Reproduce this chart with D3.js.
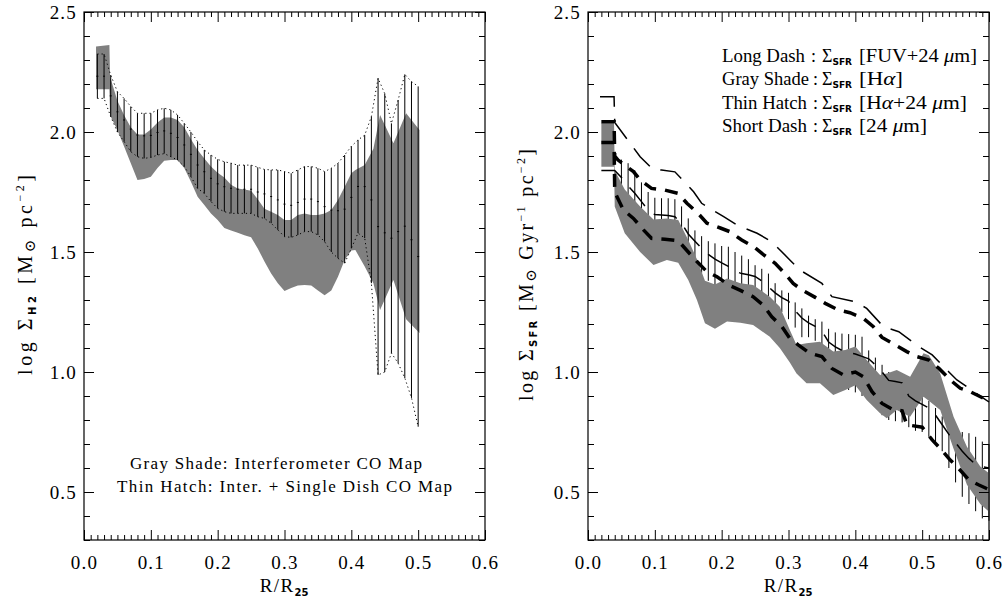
<!DOCTYPE html>
<html><head><meta charset="utf-8">
<script src="https://cdn.jsdelivr.net/npm/d3@7"></script>
<style>body{margin:0;background:#fff}</style>
</head><body><svg id="c" width="1006" height="602"></svg>
<script>
// ---------------- DATA ----------------
const xTickValues = [0.0, 0.1, 0.2, 0.3, 0.4, 0.5, 0.6];
const yTickValues = [0.5, 1.0, 1.5, 2.0, 2.5];

// Left panel: gray shade (interferometer CO map)
const leftGrayR  = [0.018,0.038,0.039,0.05,0.06,0.07,0.08,0.09,0.10,0.11,0.12,0.13,0.14,0.15,0.16,0.17,0.18,0.19,0.20,0.21,0.22,0.23,0.24,0.25,0.26,0.27,0.28,0.29,0.30,0.31,0.32,0.33,0.34,0.35,0.36,0.37,0.38,0.39,0.40,0.406,0.42,0.433,0.443,0.463,0.482,0.502];
const leftGrayLo = [2.178,2.178,2.07,2.008,1.94,1.87,1.80,1.804,1.814,1.85,1.88,1.883,1.883,1.85,1.793,1.73,1.696,1.66,1.633,1.60,1.59,1.58,1.57,1.561,1.515,1.46,1.41,1.37,1.337,1.35,1.36,1.363,1.36,1.34,1.32,1.34,1.397,1.467,1.506,1.508,1.44,1.37,1.258,1.383,1.22,1.163];
const leftGrayHi = [2.356,2.362,2.23,2.13,2.07,2.02,1.99,1.99,2.01,2.04,2.06,2.06,2.05,2.02,1.97,1.925,1.89,1.856,1.83,1.81,1.78,1.765,1.76,1.755,1.72,1.68,1.668,1.654,1.633,1.633,1.654,1.66,1.654,1.654,1.66,1.675,1.717,1.772,1.828,1.842,1.862,1.93,2.071,1.953,2.078,2.008];

// Left panel: thin hatch (inter. + single dish CO map)
const leftHatchR  = [0.02,0.03,0.04,0.05,0.06,0.07,0.08,0.09,0.10,0.11,0.12,0.13,0.14,0.15,0.16,0.17,0.18,0.19,0.20,0.21,0.22,0.23,0.24,0.25,0.26,0.27,0.28,0.29,0.30,0.31,0.32,0.33,0.34,0.35,0.36,0.37,0.38,0.39,0.40,0.41,0.42,0.43,0.44,0.45,0.46,0.47,0.48,0.49,0.50];
const leftHatchHi = [2.325,2.325,2.237,2.168,2.14,2.106,2.078,2.078,2.078,2.092,2.099,2.092,2.071,2.036,2.0,1.96,1.925,1.904,1.886,1.876,1.87,1.862,1.862,1.862,1.853,1.844,1.842,1.842,1.835,1.828,1.842,1.856,1.856,1.849,1.835,1.849,1.87,1.904,1.94,1.967,1.987,2.064,2.224,2.16,2.036,2.133,2.24,2.21,2.19];
const leftHatchLo = [2.14,2.14,2.064,2.0,1.96,1.918,1.897,1.89,1.894,1.904,1.91,1.897,1.883,1.856,1.814,1.765,1.744,1.71,1.682,1.668,1.661,1.661,1.661,1.661,1.647,1.64,1.62,1.592,1.564,1.561,1.571,1.585,1.585,1.571,1.543,1.5,1.474,1.453,1.515,1.579,1.558,1.37,0.9875,1.0,1.079,1.037,0.975,0.892,0.772];

// Right panel: gray shade, SFR [Halpha]
const rightGrayR  = [0.02,0.039,0.04,0.055,0.078,0.098,0.118,0.135,0.15,0.163,0.175,0.19,0.208,0.228,0.247,0.272,0.287,0.302,0.312,0.327,0.347,0.367,0.385,0.40,0.417,0.437,0.447,0.462,0.482,0.502,0.51,0.527,0.547,0.567,0.587,0.60];
const rightGrayLo = [1.855,1.855,1.69,1.578,1.50,1.446,1.467,1.455,1.383,1.30,1.203,1.18,1.21,1.205,1.196,1.147,1.10,1.04,0.994,0.953,0.953,0.904,0.925,0.945,0.883,0.828,0.807,0.842,0.814,0.897,0.88,0.842,0.68,0.53,0.45,0.418];
const rightGrayHi = [2.036,2.036,1.84,1.76,1.69,1.635,1.64,1.633,1.55,1.47,1.38,1.365,1.39,1.37,1.363,1.314,1.272,1.175,1.112,1.12,1.126,1.085,1.092,1.106,1.05,0.988,0.994,1.008,0.98,1.078,1.07,0.994,0.814,0.689,0.606,0.578];

// Right panel: thin hatch, SFR [Halpha+24um]
const rightHatchR  = [0.05,0.06,0.07,0.08,0.09,0.10,0.11,0.12,0.13,0.14,0.15,0.16,0.17,0.18,0.19,0.20,0.21,0.22,0.23,0.24,0.25,0.26,0.27,0.28,0.29,0.30,0.31,0.32,0.33,0.34,0.35,0.36,0.37,0.38,0.39,0.40,0.41,0.42,0.43,0.44,0.45,0.46,0.47,0.48,0.49,0.50,0.51,0.52,0.53,0.54,0.55,0.56,0.57,0.58,0.59,0.60];
const rightHatchHi = [1.885,1.87,1.84,1.79,1.75,1.726,1.724,1.724,1.72,1.69,1.64,1.59,1.566,1.545,1.536,1.525,1.522,1.50,1.485,1.47,1.445,1.43,1.41,1.37,1.34,1.33,1.29,1.265,1.235,1.22,1.21,1.18,1.165,1.16,1.158,1.155,1.147,1.09,1.06,1.03,1.0,0.99,0.98,0.95,0.93,0.90,0.88,0.85,0.815,0.785,0.76,0.75,0.745,0.73,0.71,0.70];
const rightHatchLo = [1.66,1.585,1.555,1.55,1.525,1.516,1.514,1.508,1.50,1.48,1.445,1.455,1.413,1.38,1.338,1.315,1.276,1.26,1.26,1.275,1.304,1.28,1.245,1.25,1.25,1.22,1.185,1.145,1.145,1.13,1.09,1.015,0.985,0.95,0.925,0.915,0.90,0.90,0.88,0.82,0.80,0.795,0.79,0.77,0.755,0.75,0.73,0.70,0.67,0.60,0.54,0.48,0.45,0.42,0.39,0.38];

// Right panel: thin long-dash line through hatch
const hatchLineR = [0.02,0.039,0.04,0.05,0.06,0.07,0.08,0.09,0.10,0.11,0.12,0.13,0.14,0.15,0.16,0.17,0.18,0.19,0.20,0.21,0.22,0.23,0.24,0.25,0.26,0.27,0.28,0.29,0.30,0.31,0.32,0.33,0.34,0.35,0.36,0.37,0.38,0.39,0.40,0.41,0.42,0.43,0.44,0.45,0.46,0.47,0.48,0.49,0.50,0.51,0.52,0.53,0.54,0.55,0.56,0.57,0.58,0.59,0.60];
const hatchLineV = [1.84,1.84,1.84,1.81,1.775,1.745,1.71,1.675,1.656,1.654,1.652,1.647,1.62,1.575,1.545,1.515,1.49,1.47,1.455,1.44,1.42,1.41,1.405,1.398,1.38,1.355,1.33,1.31,1.295,1.255,1.225,1.205,1.19,1.17,1.125,1.105,1.09,1.08,1.075,1.065,1.055,1.03,1.0,0.965,0.96,0.955,0.90,0.88,0.865,0.85,0.82,0.78,0.74,0.705,0.67,0.64,0.615,0.605,0.60];

// Right panel: long dash, SFR [FUV+24um]
const longDashR = [0.018,0.039,0.04,0.065,0.078,0.098,0.11,0.13,0.158,0.17,0.203,0.223,0.253,0.275,0.302,0.317,0.35,0.365,0.40,0.417,0.442,0.465,0.495,0.515,0.54,0.552,0.592,0.60];
const longDashV = [2.147,2.147,2.04,1.946,1.897,1.842,1.842,1.834,1.751,1.703,1.647,1.612,1.578,1.543,1.467,1.425,1.369,1.314,1.293,1.265,1.189,1.168,1.106,1.071,1.0,0.967,0.89,0.875];

// Right panel: short dash, SFR [24um] (upper and lower tracks)
const shortDashUpR = [0.02,0.039,0.04,0.045,0.068,0.078,0.095,0.115,0.135,0.148,0.165,0.178,0.198,0.212,0.23,0.248,0.262,0.28,0.292,0.307,0.32,0.34,0.355,0.375,0.392,0.412,0.427,0.44,0.455,0.477,0.492,0.51,0.525,0.545,0.557,0.572,0.592,0.60];
const shortDashUpV = [2.043,2.043,1.90,1.883,1.835,1.80,1.765,1.758,1.744,1.703,1.66,1.62,1.60,1.585,1.55,1.522,1.49,1.453,1.418,1.369,1.342,1.311,1.286,1.258,1.247,1.224,1.189,1.144,1.12,1.085,1.064,1.05,1.015,0.96,0.932,0.918,0.89,0.875];
const shortDashLoR = [0.02,0.039,0.04,0.053,0.068,0.083,0.095,0.115,0.135,0.15,0.163,0.178,0.193,0.212,0.228,0.247,0.262,0.275,0.29,0.302,0.315,0.332,0.35,0.365,0.382,0.40,0.412,0.425,0.44,0.455,0.47,0.477,0.50,0.515,0.527,0.542,0.552,0.57,0.585,0.60];
const shortDashLoV = [1.956,1.956,1.75,1.675,1.64,1.592,1.557,1.553,1.547,1.50,1.46,1.418,1.397,1.36,1.34,1.314,1.279,1.23,1.19,1.14,1.112,1.078,1.064,1.015,0.988,1.0,0.98,0.918,0.869,0.845,0.838,0.78,0.77,0.717,0.682,0.633,0.606,0.55,0.529,0.51];

// Legend / annotation texts
const legendLabels = ['Long Dash', 'Gray Shade', 'Thin Hatch', 'Short Dash'];
const legendBracket = [['[FUV+24 ', '\u03BC', 'm]'], ['[H', '\u03B1', ']'], ['[H', '\u03B1', '+24 ', '\u03BC', 'm]'], ['[24 ', '\u03BC', 'm]']];
const noteLines = ['Gray Shade: Interferometer CO Map', 'Thin Hatch: Inter. + Single Dish CO Map'];

// ---------------- DRAWING ----------------
const svg = d3.select('#c');
const FONT = "'Liberation Serif','Times New Roman',serif";
const SUBFONT = "'DejaVu Sans',sans-serif";
const GRAY = '#808080';
const Y0 = 12, Y1 = 540;
const y = d3.scaleLinear().domain([0.3, 2.5]).range([Y1, Y0]);
const xL = d3.scaleLinear().domain([0, 0.6]).range([84, 485]);
const xR = d3.scaleLinear().domain([0, 0.6]).range([588, 989]);

const minorX = d3.range(1, 60).filter(i => i % 10 !== 0).map(i => i / 100);
const minorY = d3.range(3, 26).filter(i => i % 5 !== 0).map(i => i / 10);

function zip(a, b, c) { return a.map((v, i) => c ? [v, b[i], c[i]] : [v, b[i]]); }

function drawAxes(x) {
  const g = svg.append('g');
  const style = sel => {
    sel.select('path.domain').remove();
    sel.selectAll('line').attr('stroke', '#000').attr('stroke-width', 1);
    sel.attr('font-family', FONT).attr('font-size', 19);
    sel.selectAll('text').attr('fill', '#000').attr('letter-spacing', '1.2px');
  };
  g.append('g').attr('transform', `translate(0,${Y1})`)
    .call(d3.axisBottom(x).tickValues(xTickValues).tickSize(-10).tickPadding(16).tickFormat(d3.format('.1f'))).call(style);
  g.append('g').attr('transform', `translate(0,${Y1})`)
    .call(d3.axisBottom(x).tickValues(minorX).tickSize(-5).tickFormat('')).call(style);
  g.append('g').attr('transform', `translate(0,${Y0})`)
    .call(d3.axisTop(x).tickValues(xTickValues).tickSize(-10).tickFormat('')).call(style);
  g.append('g').attr('transform', `translate(0,${Y0})`)
    .call(d3.axisTop(x).tickValues(minorX).tickSize(-5).tickFormat('')).call(style);
  const xa = x.range()[0], xb = x.range()[1];
  g.append('g').attr('transform', `translate(${xa},0)`)
    .call(d3.axisLeft(y).tickValues(yTickValues).tickSize(-10).tickPadding(7).tickFormat(d3.format('.1f'))).call(style);
  g.append('g').attr('transform', `translate(${xa},0)`)
    .call(d3.axisLeft(y).tickValues(minorY).tickSize(-6).tickFormat('')).call(style);
  g.append('g').attr('transform', `translate(${xb},0)`)
    .call(d3.axisRight(y).tickValues(yTickValues).tickSize(-10).tickFormat('')).call(style);
  g.append('g').attr('transform', `translate(${xb},0)`)
    .call(d3.axisRight(y).tickValues(minorY).tickSize(-6).tickFormat('')).call(style);
  g.append('rect').attr('x', xa).attr('y', Y0).attr('width', xb - xa).attr('height', Y1 - Y0)
    .attr('fill', 'none').attr('stroke', '#000').attr('stroke-width', 1.2);
}

// ---- Left panel ----
const lp = svg.append('g');
lp.append('path')
  .datum(zip(leftGrayR, leftGrayLo, leftGrayHi))
  .attr('fill', GRAY)
  .attr('d', d3.area().x(d => xL(d[0])).y0(d => y(d[1])).y1(d => y(d[2])));
const lh = zip(leftHatchR, leftHatchLo, leftHatchHi);
lp.selectAll('line.h').data(lh).join('line')
  .attr('x1', d => xL(d[0])).attr('x2', d => xL(d[0]))
  .attr('y1', d => y(d[1])).attr('y2', d => y(d[2]))
  .attr('stroke', '#000').attr('stroke-width', 1);
lp.selectAll('line.m').data(lh).join('line')
  .attr('x1', d => xL(d[0]) - 1).attr('x2', d => xL(d[0]) + 1)
  .attr('y1', d => y((d[1] + d[2]) / 2)).attr('y2', d => y((d[1] + d[2]) / 2))
  .attr('stroke', '#000').attr('stroke-width', 1);
[1, 2].forEach(k => {
  lp.append('path').datum(lh)
    .attr('fill', 'none').attr('stroke', '#000').attr('stroke-width', 1)
    .attr('stroke-dasharray', '1.2,3')
    .attr('d', d3.line().x(d => xL(d[0])).y(d => y(d[k])));
});
drawAxes(xL);

// ---- Right panel ----
const rp = svg.append('g');
const rh = zip(rightHatchR, rightHatchLo, rightHatchHi);
rp.selectAll('line.h').data(rh).join('line')
  .attr('x1', d => xR(d[0])).attr('x2', d => xR(d[0]))
  .attr('y1', d => y(d[1])).attr('y2', d => y(d[2]))
  .attr('stroke', '#000').attr('stroke-width', 1);
rp.append('path')
  .datum(zip(rightGrayR, rightGrayLo, rightGrayHi))
  .attr('fill', GRAY)
  .attr('d', d3.area().x(d => xR(d[0])).y0(d => y(d[1])).y1(d => y(d[2])));
const lineR = d3.line().x(d => xR(d[0])).y(d => y(d[1]));
rp.append('path').datum(zip(hatchLineR, hatchLineV)).attr('d', lineR)
  .attr('fill', 'none').attr('stroke', '#000').attr('stroke-width', 1.5).attr('stroke-dasharray', '24,12');
rp.append('path').datum(zip(longDashR, longDashV)).attr('d', lineR)
  .attr('fill', 'none').attr('stroke', '#000').attr('stroke-width', 1.5).attr('stroke-dasharray', '24,12');
rp.append('path').datum(zip(shortDashUpR, shortDashUpV)).attr('d', lineR)
  .attr('fill', 'none').attr('stroke', '#000').attr('stroke-width', 3.5).attr('stroke-dasharray', '13,9');
rp.append('path').datum(zip(shortDashLoR, shortDashLoV)).attr('d', lineR)
  .attr('fill', 'none').attr('stroke', '#000').attr('stroke-width', 3.5).attr('stroke-dasharray', '13,9');
drawAxes(xR);

// ---- Texts ----
function xTitle(cx) {
  const t = svg.append('text').attr('x', cx).attr('y', 592).attr('text-anchor', 'middle')
    .attr('font-family', FONT).attr('font-size', 19).attr('letter-spacing', '1.4px');
  t.append('tspan').text('R/R');
  t.append('tspan').attr('font-family', SUBFONT).attr('font-weight', 'bold').attr('font-size', 10)
    .attr('dy', 4).attr('letter-spacing', '0').text('25');
}
xTitle(284); xTitle(788);

function yTitle(xpos, len, parts) {
  const t = svg.append('text').attr('transform', `translate(${xpos},275) rotate(-90)`)
    .attr('text-anchor', 'middle').attr('font-family', FONT).attr('font-size', 20)
    .attr('textLength', len).attr('lengthAdjust', 'spacing');
  parts.forEach(p => {
    const s = t.append('tspan').text(p.t);
    if (p.dy) s.attr('dy', p.dy);
    if (p.f) s.attr('font-family', p.f);
    if (p.fs) s.attr('font-size', p.fs);
    if (p.b) s.attr('font-weight', 'bold');
  });
}
yTitle(32, 200, [
  {t: 'log \u03A3'}, {t: 'H2', dy: 4, f: SUBFONT, fs: 10, b: 1}, {t: ' [M', dy: -4},
  {t: '\u2299', dy: 3, f: "'DejaVu Serif',serif", fs: 15}, {t: ' pc', dy: -3},
  {t: '\u22122', dy: -8, fs: 12}, {t: ']', dy: 8}
]);
yTitle(533, 252, [
  {t: 'log \u03A3'}, {t: 'SFR', dy: 4, f: SUBFONT, fs: 10, b: 1}, {t: '  [M', dy: -4},
  {t: '\u2299', dy: 3, f: "'DejaVu Serif',serif", fs: 15}, {t: ' Gyr', dy: -3},
  {t: '\u22121', dy: -8, fs: 12}, {t: ' pc', dy: 8},
  {t: '\u22122', dy: -8, fs: 12}, {t: ']', dy: 8}
]);

// left annotation
svg.append('text').attr('x', 130).attr('y', 469).attr('font-family', FONT).attr('font-size', 17)
  .attr('textLength', 292).attr('lengthAdjust', 'spacing').text(noteLines[0]);
svg.append('text').attr('x', 117).attr('y', 492).attr('font-family', FONT).attr('font-size', 17)
  .attr('textLength', 335).attr('lengthAdjust', 'spacing').text(noteLines[1]);

// right legend
const legendY = [61.5, 85, 108.5, 132];
const labelLen = [83, 87, 85, 85];
const bracketLen = [118, 44, 108, 68];
legendLabels.forEach((lab, i) => {
  const g = svg.append('g').attr('font-family', FONT).attr('font-size', 18);
  g.append('text').attr('x', 722).attr('y', legendY[i])
    .attr('textLength', labelLen[i]).attr('lengthAdjust', 'spacingAndGlyphs').text(lab);
  g.append('text').attr('x', i === 0 ? 811 : 813).attr('y', legendY[i]).text(':');
  const s = g.append('text').attr('x', 822).attr('y', legendY[i]);
  s.append('tspan').text('\u03A3');
  s.append('tspan').attr('font-family', SUBFONT).attr('font-weight', 'bold').attr('font-size', 9)
    .attr('dy', 3).text('SFR');
  const b = g.append('text').attr('x', 859).attr('y', legendY[i])
    .attr('textLength', bracketLen[i]).attr('lengthAdjust', 'spacingAndGlyphs');
  legendBracket[i].forEach(p => {
    const t = b.append('tspan').text(p);
    if (p === '\u03BC' || p === '\u03B1') t.attr('font-style', 'italic');
  });
});
</script></body></html>
